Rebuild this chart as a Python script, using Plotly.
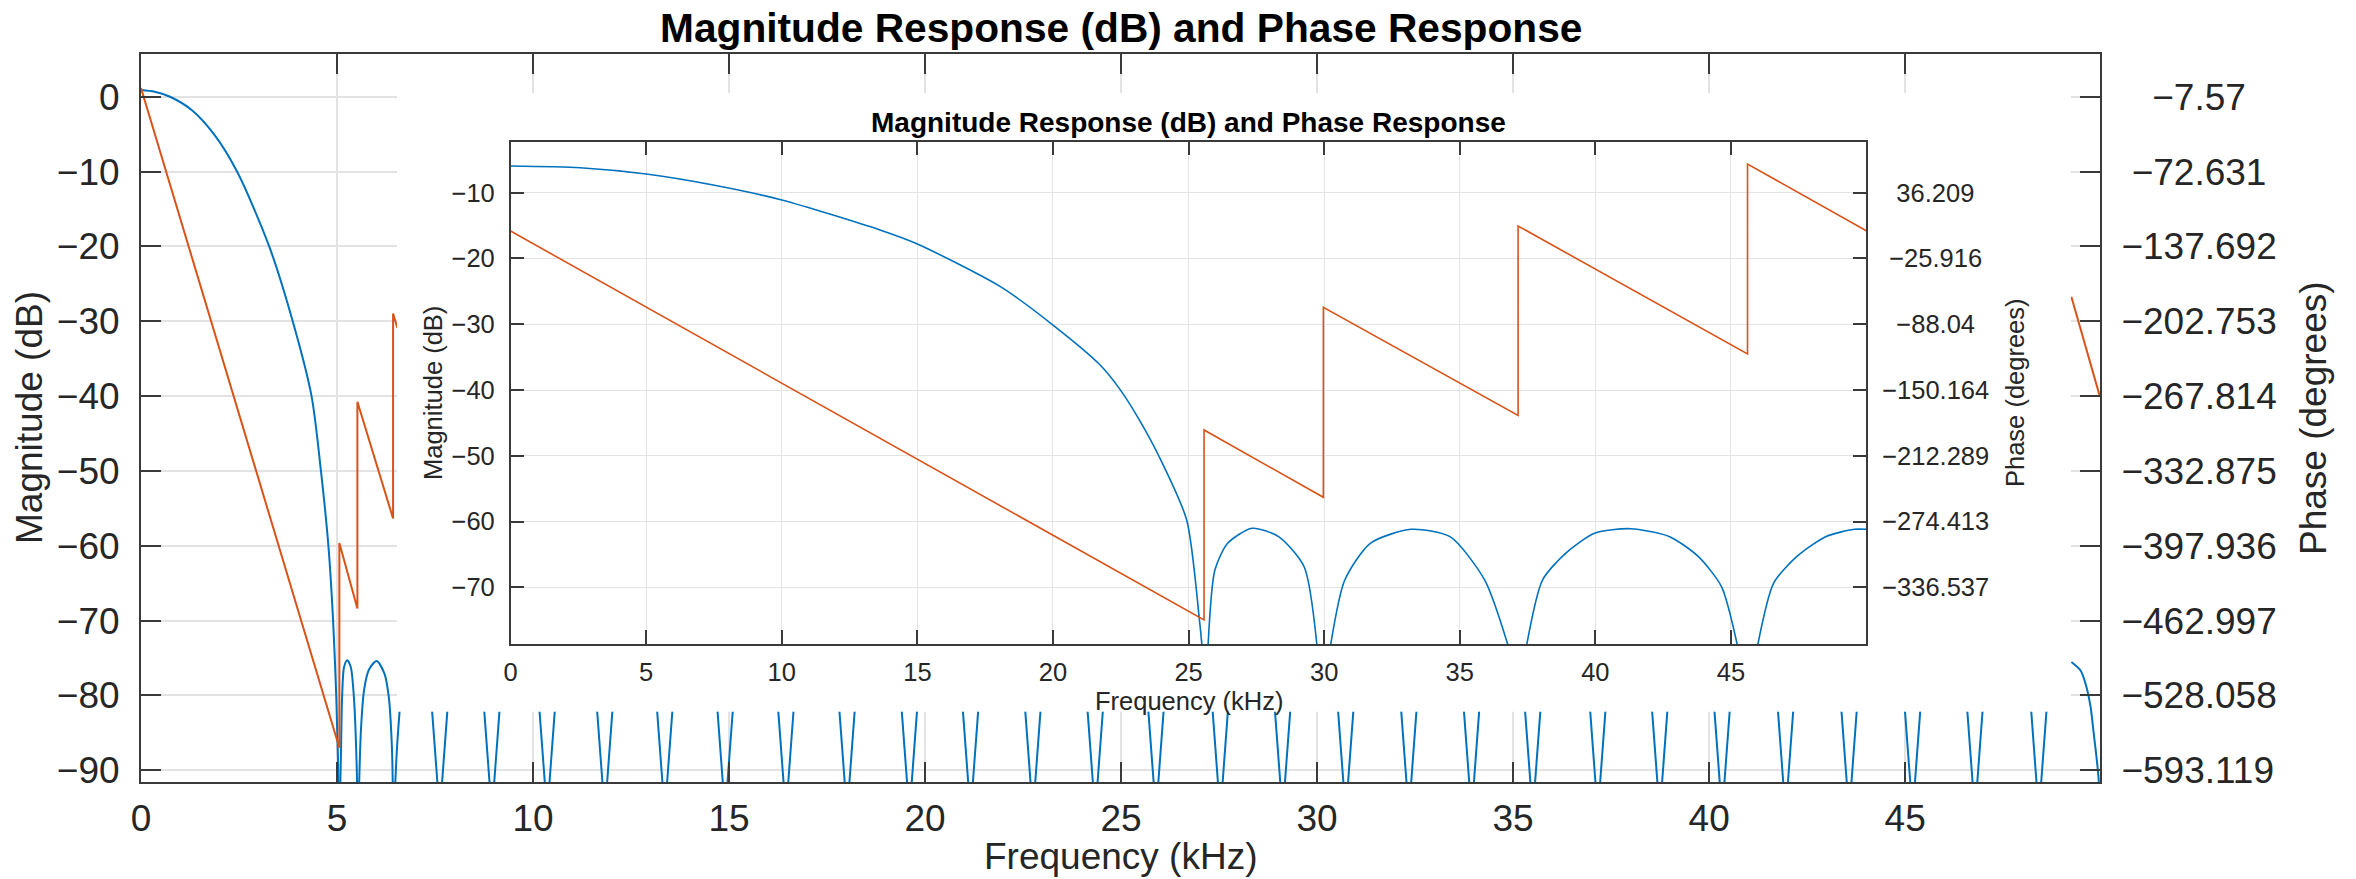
import plotly.graph_objects as go

# ---------------- main filter: magnitude (dB) ----------------
# pass band lobe and the first side lobes, one list per lobe
main_lobes_khz = [
    [0.0, 0.35, 0.74, 1.30, 1.86, 2.45, 3.27, 3.87, 4.35, 4.59, 4.78, 4.90, 4.98, 5.06],
    [5.07, 5.10, 5.13, 5.18, 5.26, 5.35, 5.43, 5.50, 5.52],
    [5.55, 5.61, 5.69, 5.81, 6.01, 6.21, 6.32, 6.40, 6.43],
    [6.46, 6.53, 6.62],
]
main_lobes_db = [
    [0.9, 0.67, 0.0, -1.8, -5.0, -10.0, -20.0, -30.0, -40.0, -50.0, -60.0, -70.0, -80.0, -95.0],
    [-95.0, -88.0, -80.2, -76.2, -75.3, -76.2, -80.2, -89.1, -95.0],
    [-95.0, -84.65, -79.3, -76.6, -75.4, -77.1, -80.2, -86.9, -95.0],
    [-95.0, -87.0, -80.5],
]

# stop-band notches: frequencies of the two flanks and the null of each notch
main_dip_khz = [
    [7.41, 7.56, 7.62, 7.68, 7.83],
    [8.74, 8.89, 8.95, 9.01, 9.16],
    [10.15, 10.30, 10.36, 10.42, 10.57],
    [11.62, 11.77, 11.83, 11.89, 12.04],
    [13.15, 13.30, 13.36, 13.42, 13.57],
    [14.69, 14.84, 14.90, 14.96, 15.11],
    [16.24, 16.39, 16.45, 16.51, 16.66],
    [17.80, 17.95, 18.01, 18.07, 18.22],
    [19.39, 19.54, 19.60, 19.66, 19.81],
    [20.95, 21.10, 21.16, 21.22, 21.37],
    [22.54, 22.69, 22.75, 22.81, 22.96],
    [24.13, 24.28, 24.34, 24.40, 24.55],
    [25.68, 25.83, 25.89, 25.95, 26.10],
    [27.32, 27.47, 27.53, 27.59, 27.74],
    [28.91, 29.06, 29.12, 29.18, 29.33],
    [30.52, 30.67, 30.73, 30.79, 30.94],
    [32.13, 32.28, 32.34, 32.40, 32.55],
    [33.73, 33.88, 33.94, 34.00, 34.15],
    [35.29, 35.44, 35.50, 35.56, 35.71],
    [36.95, 37.10, 37.16, 37.22, 37.37],
    [38.53, 38.68, 38.74, 38.80, 38.95],
    [40.12, 40.27, 40.33, 40.39, 40.54],
    [41.74, 41.89, 41.95, 42.01, 42.16],
    [43.36, 43.51, 43.57, 43.63, 43.78],
    [44.98, 45.13, 45.19, 45.25, 45.40],
    [46.57, 46.72, 46.78, 46.84, 46.99],
    [48.20, 48.35, 48.41, 48.47, 48.62],
]
main_dip_db = [-81.0, -91.6, -110.0, -91.6, -81.0]

main_edge_khz = [49.24, 49.47, 49.60, 49.73, 49.81, 49.88, 49.94, 49.97]
main_edge_db = [-75.53, -76.64, -78.41, -81.54, -85.10, -88.22, -91.57, -110.0]

# ---------------- main filter: phase (degrees) ----------------
main_phase_khz = [0.0, 5.06, 5.06, 5.52, 5.52, 6.43, 6.43, 6.54, None, 49.24, 49.97]
main_phase_deg = [0.0, -573.5, -395.5, -452.5, -272.8, -374.2, -196.0, -208.5, None, -181.5, -268.5]

# ---------------- second filter (inset) ----------------
inset_lobes_khz = [
    [0.0, 2.56, 5.0, 7.47, 10.0, 13.62, 15.0, 18.06, 20.0, 21.74, 22.47, 23.15, 23.90, 24.93, 25.40, 25.49],
    [25.72, 25.97, 26.44, 27.34, 28.32, 29.26, 29.73],
    [30.24, 30.76, 31.70, 33.21, 34.64, 35.92, 36.77],
    [37.47, 38.05, 38.90, 39.97, 41.29, 42.74, 43.80, 44.65, 45.23],
    [45.99, 46.57, 47.42, 48.49, 49.55, 49.99],
]
inset_lobes_db = [
    [-5.94, -6.2, -7.16, -8.83, -11.11, -15.67, -17.8, -24.29, -30.12, -36.2, -39.9, -44.3, -50.0, -59.77, -74.97, -78.7],
    [-78.7, -67.37, -63.31, -61.03, -62.3, -66.87, -78.7],
    [-78.7, -68.89, -63.31, -61.18, -62.3, -68.9, -78.7],
    [-78.7, -68.9, -64.83, -61.79, -61.09, -62.3, -65.34, -69.9, -78.7],
    [-78.7, -69.39, -65.34, -62.3, -61.18, -61.18],
]
inset_phase_khz = [0.0, 25.57, 25.57, 29.97, 29.97, 37.15, 37.15, 45.61, 45.61, 49.99]
inset_phase_deg = [0.0, -367.4, -187.9, -251.5, -72.0, -174.1, 4.76, -116.1, 63.3, 0.3]

# ---------------- tick labels ----------------
khz_ticks = [0, 5, 10, 15, 20, 25, 30, 35, 40, 45]
main_db_ticks = [0, -10, -20, -30, -40, -50, -60, -70, -80, -90]
main_deg_ticks = [-7.57, -72.631, -137.692, -202.753, -267.814, -332.875, -397.936, -462.997, -528.058, -593.119]
inset_db_ticks = [-10, -20, -30, -40, -50, -60, -70]
inset_deg_ticks = [36.209, -25.916, -88.04, -150.164, -212.289, -274.413, -336.537]

BLUE = "#0072BD"
ORANGE = "#D95319"
AXIS = "#3a3a3a"
TEXT = "#262626"
GRID = "#e3e3e3"
FONT = "Liberation Sans, Arial, Helvetica, sans-serif"

W, H = 2356, 879
ML, MR, MT, MB = 141, 256, 54, 97


def px_x(px):
    return (px - ML) / (W - ML - MR)


def px_y(py):
    return (H - MB - py) / (H - MT - MB)


def num_label(v):
    return f"{v}".replace("-", "\u2212")


def centred_labels(values):
    # right-hand labels are centred; pad narrow ones with digit/punctuation spaces
    labels = [num_label(v) for v in values]
    widest = max(len(s) for s in labels)
    padded = []
    for s in labels:
        gap = widest - len(s)
        pad = "\u2007" * (gap // 2) + ("\u2008" if gap % 2 else "")
        padded.append(pad + s)
    return padded


def flatten(groups, ys):
    fx, fy = [], []
    for i, g in enumerate(groups):
        fx.extend(g)
        fy.extend(ys[i] if isinstance(ys[0], list) else ys)
        fx.append(None)
        fy.append(None)
    return fx, fy


lobe_x, lobe_y = flatten(main_lobes_khz, main_lobes_db)
dip_x, dip_y = flatten(main_dip_khz, main_dip_db)
ilobe_x, ilobe_y = flatten(inset_lobes_khz, inset_lobes_db)

fig = go.Figure()

# main plot
fig.add_trace(go.Scatter(x=lobe_x, y=lobe_y, mode="lines", connectgaps=False,
                         line=dict(color=BLUE, width=2, shape="spline", smoothing=0.8),
                         xaxis="x", yaxis="y", hoverinfo="skip"))
fig.add_trace(go.Scatter(x=dip_x, y=dip_y, mode="lines", connectgaps=False,
                         line=dict(color=BLUE, width=2), xaxis="x", yaxis="y", hoverinfo="skip"))
fig.add_trace(go.Scatter(x=main_edge_khz, y=main_edge_db, mode="lines",
                         line=dict(color=BLUE, width=2, shape="spline", smoothing=0.7),
                         xaxis="x", yaxis="y", hoverinfo="skip"))
fig.add_trace(go.Scatter(x=main_phase_khz, y=main_phase_deg, mode="lines", connectgaps=False,
                         line=dict(color=ORANGE, width=2), xaxis="x", yaxis="y2", hoverinfo="skip"))

# white panel holding the second axes
fig.add_trace(go.Scatter(x=[], y=[], mode="lines", xaxis="x2", yaxis="y3", hoverinfo="skip"))

# inset plot
fig.add_trace(go.Scatter(x=ilobe_x, y=ilobe_y, mode="lines", connectgaps=False,
                         line=dict(color=BLUE, width=1.6, shape="spline", smoothing=0.7),
                         xaxis="x3", yaxis="y4", hoverinfo="skip"))
fig.add_trace(go.Scatter(x=inset_phase_khz, y=inset_phase_deg, mode="lines",
                         line=dict(color=ORANGE, width=1.6), xaxis="x3", yaxis="y5", hoverinfo="skip"))

main_font = dict(family=FONT, size=37, color=TEXT)
inset_font = dict(family=FONT, size=25.5, color=TEXT)

axis_common = dict(showline=True, linecolor=AXIS, ticks="inside", tickcolor=AXIS, zeroline=False)

fig.update_layout(
    width=W, height=H,
    margin=dict(l=ML, r=MR, t=MT, b=MB, pad=0),
    paper_bgcolor="white", plot_bgcolor="white",
    showlegend=False,
    xaxis=dict(domain=[0, 1], anchor="y", range=[0, 49.97],
               tickvals=khz_ticks, ticktext=[num_label(v) for v in khz_ticks],
               ticklen=20, tickwidth=2, linewidth=2, mirror="ticks",
               showgrid=True, gridcolor=GRID, gridwidth=1.5,
               tickfont=main_font, ticklabelstandoff=3, **axis_common),
    yaxis=dict(domain=[0, 1], anchor="x", range=[-91.57, 5.71],
               tickvals=main_db_ticks, ticktext=[num_label(v) for v in main_db_ticks],
               ticklen=20, tickwidth=2, linewidth=2,
               showgrid=True, gridcolor=GRID, gridwidth=1.5,
               tickfont=main_font, ticklabelstandoff=12, **axis_common),
    yaxis2=dict(overlaying="y", side="right", anchor="x", range=[-603.34, 29.58],
                tickvals=main_deg_ticks, ticktext=centred_labels(main_deg_ticks),
                ticklen=20, tickwidth=2, linewidth=2, showgrid=False,
                tickfont=main_font, ticklabelstandoff=12, **axis_common),
    xaxis2=dict(domain=[px_x(397), px_x(2071)], anchor="y3", visible=False, range=[0, 1]),
    yaxis3=dict(domain=[px_y(711.7), px_y(93)], anchor="x2", visible=False, range=[0, 1]),
    xaxis3=dict(domain=[px_x(510.6), px_x(1866.3)], anchor="y4", range=[0, 49.99],
                tickvals=khz_ticks, ticktext=[num_label(v) for v in khz_ticks],
                ticklen=14, tickwidth=1.5, linewidth=1.5, mirror="ticks",
                showgrid=True, gridcolor=GRID, gridwidth=1,
                tickfont=inset_font, ticklabelstandoff=5, **axis_common),
    yaxis4=dict(domain=[px_y(644), px_y(141.7)], anchor="x3", range=[-78.62, -2.245],
                tickvals=inset_db_ticks, ticktext=[num_label(v) for v in inset_db_ticks],
                ticklen=14, tickwidth=1.5, linewidth=1.5,
                showgrid=True, gridcolor=GRID, gridwidth=1,
                tickfont=inset_font, ticklabelstandoff=9, **axis_common),
    yaxis5=dict(overlaying="y4", side="right", anchor="x3", range=[-390.07, 84.38],
                tickvals=inset_deg_ticks, ticktext=centred_labels(inset_deg_ticks),
                ticklen=14, tickwidth=1.5, linewidth=1.5, showgrid=False,
                tickfont=inset_font, ticklabelstandoff=9, **axis_common),
)

title_text = "Magnitude Response (dB) and Phase Response"
annotations = [
    dict(text=f"<b>{title_text}</b>", x=0.5, y=px_y(28), yanchor="middle",
         font=dict(family=FONT, size=40.7, color="black")),
    dict(text="Frequency (kHz)", x=0.5, y=px_y(878), yanchor="bottom", font=main_font),
    dict(text="Magnitude (dB)", x=px_x(29), y=0.5, textangle=-90, yanchor="middle", font=main_font),
    dict(text="Phase (degrees)", x=px_x(2313), y=0.5, textangle=-90, yanchor="middle", font=main_font),
    dict(text=f"<b>{title_text}</b>", x=px_x(1188.5), y=px_y(122), yanchor="middle",
         font=dict(family=FONT, size=28, color="black")),
    dict(text="Frequency (kHz)", x=px_x(1188.5), y=px_y(701), yanchor="middle", font=inset_font),
    dict(text="Magnitude (dB)", x=px_x(433), y=px_y(393), textangle=-90, yanchor="middle", font=inset_font),
    dict(text="Phase (degrees)", x=px_x(2015), y=px_y(393), textangle=-90, yanchor="middle", font=inset_font),
]
for a in annotations:
    a.update(xref="paper", yref="paper", showarrow=False, xanchor="center", borderpad=0)
fig.update_layout(annotations=annotations)

fig.write_html("out.html", config={"displayModeBar": False})
